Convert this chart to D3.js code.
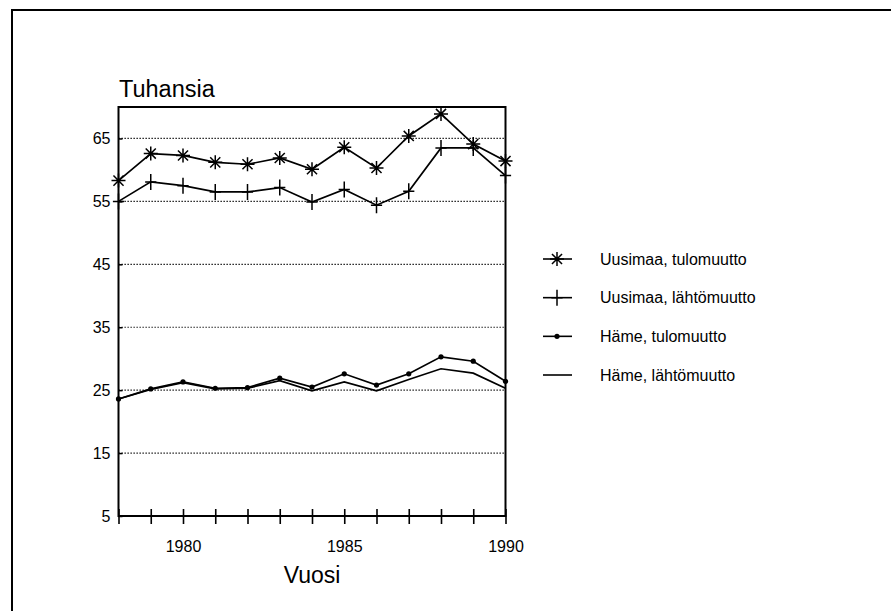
<!DOCTYPE html>
<html>
<head>
<meta charset="utf-8">
<script src="https://cdn.jsdelivr.net/npm/d3@7"></script>
<style>
  body { margin: 0; background: #fff; }
  text { font-family: "Liberation Sans", Arial, sans-serif; fill: #000; }
</style>
</head>
<body>
<script>
// data (thousands)
var years = [1978, 1979, 1980, 1981, 1982, 1983, 1984, 1985, 1986, 1987, 1988, 1989, 1990];
var uusimaaTulo  = [58.3, 62.6, 62.3, 61.2, 60.9, 61.9, 60.1, 63.6, 60.3, 65.4, 68.9, 64.1, 61.4];
var uusimaaLahto = [55.0, 58.1, 57.5, 56.5, 56.5, 57.2, 54.9, 56.9, 54.4, 56.6, 63.5, 63.5, 59.1];
var hameTulo     = [23.6, 25.2, 26.3, 25.3, 25.4, 26.9, 25.5, 27.6, 25.8, 27.6, 30.3, 29.6, 26.4];
var hameLahto    = [23.6, 25.1, 26.2, 25.2, 25.3, 26.5, 24.9, 26.3, 24.9, 26.7, 28.4, 27.7, 25.3];
var yTicks = [5, 15, 25, 35, 45, 55, 65];
var xLabels = [1980, 1985, 1990];
var seriesNames = ["Uusimaa, tulomuutto", "Uusimaa, lähtömuutto", "Häme, tulomuutto", "Häme, lähtömuutto"];

// marker shapes
var starSym = {
  draw: function(ctx, size) {
    var r = Math.sqrt(size) / 2, d = r * 0.72;
    ctx.moveTo(0, -r); ctx.lineTo(0, r);
    ctx.moveTo(-r, 0); ctx.lineTo(r, 0);
    ctx.moveTo(-d, -d); ctx.lineTo(d, d);
    ctx.moveTo(-d, d); ctx.lineTo(d, -d);
  }
};
var plusSym = {
  draw: function(ctx, size) {
    var r = Math.sqrt(size) / 2;
    ctx.moveTo(0, -r); ctx.lineTo(0, r);
    ctx.moveTo(-r * 0.7, 0); ctx.lineTo(r * 0.7, 0);
  }
};

var series = [
  {name: seriesNames[0], values: uusimaaTulo,  marker: "star"},
  {name: seriesNames[1], values: uusimaaLahto, marker: "plus"},
  {name: seriesNames[2], values: hameTulo,     marker: "dot"},
  {name: seriesNames[3], values: hameLahto,    marker: "none"}
];

var svg = d3.select("body").append("svg")
    .attr("width", 891)
    .attr("height", 611);

// outer frame (top + left edge)
svg.append("path")
    .attr("d", "M12,611V10H891")
    .attr("fill", "none")
    .attr("stroke", "#000")
    .attr("stroke-width", 2);

var plotL = 118.5, plotR = 505.5, plotT = 107, plotB = 516;

var x = d3.scaleLinear().domain([1978, 1990]).range([plotL, plotR]);
var y = d3.scaleLinear().domain([5, 70]).range([plotB, plotT]);

// grid lines
var grid = svg.append("g");
grid.selectAll("line").data(yTicks.filter(function(d) { return d > 5; })).enter().append("line")
    .attr("x1", plotL).attr("x2", plotR)
    .attr("y1", function(d) { return y(d); })
    .attr("y2", function(d) { return y(d); })
    .attr("stroke", "#000")
    .attr("stroke-width", 1.2)
    .attr("stroke-dasharray", "1.3,1.7");

// y axis
var yAxis = svg.append("g")
    .attr("transform", "translate(" + plotL + ",0)")
    .call(d3.axisLeft(y).tickValues(yTicks).tickSize(-4).tickPadding(8).tickSizeOuter(0));
yAxis.select(".domain").remove();
yAxis.selectAll(".tick line").attr("stroke-width", 1.5);
yAxis.selectAll("text")
    .style("font-size", "16px")
    .style("font-family", "'Liberation Sans', Arial, sans-serif");

// plot box
svg.append("rect")
    .attr("x", plotL).attr("y", plotT)
    .attr("width", plotR - plotL).attr("height", plotB - plotT)
    .attr("fill", "none")
    .attr("stroke", "#000")
    .attr("stroke-width", 2);

// x axis, ticks cross the line
var xAxis = svg.append("g")
    .attr("transform", "translate(0," + plotB + ")")
    .call(d3.axisBottom(x).tickValues(years).tickSize(8).tickPadding(17)
        .tickFormat(function(d) { return xLabels.indexOf(d) >= 0 ? d : ""; }));
xAxis.select(".domain").remove();
xAxis.selectAll(".tick line").attr("y1", -7).attr("stroke-width", 1.6);
xAxis.selectAll("text")
    .style("font-size", "16px")
    .style("font-family", "'Liberation Sans', Arial, sans-serif");

// lines
var line = d3.line()
    .x(function(d, i) { return x(years[i]); })
    .y(function(d) { return y(d); });

series.forEach(function(s) {
  svg.append("path")
      .attr("d", line(s.values))
      .attr("fill", "none")
      .attr("stroke", "#000")
      .attr("stroke-width", 1.7);
});

function drawMarker(g, type, cx, cy) {
  if (type == "star") {
    g.append("path").attr("d", d3.symbol(starSym, 196)())
        .attr("transform", "translate(" + cx + "," + cy + ")")
        .attr("fill", "none").attr("stroke", "#000").attr("stroke-width", 1.5);
  } else if (type == "plus") {
    g.append("path").attr("d", d3.symbol(plusSym, 256)())
        .attr("transform", "translate(" + cx + "," + cy + ")")
        .attr("fill", "none").attr("stroke", "#000").attr("stroke-width", 1.5);
  } else if (type == "dot") {
    g.append("circle").attr("cx", cx).attr("cy", cy).attr("r", 2.6).attr("fill", "#000");
  }
}

var marks = svg.append("g");
series.forEach(function(s) {
  s.values.forEach(function(v, i) {
    drawMarker(marks, s.marker, x(years[i]), y(v));
  });
});

// titles
svg.append("text")
    .attr("x", 119).attr("y", 97)
    .style("font-size", "23.5px")
    .text("Tuhansia");

svg.append("text")
    .attr("x", 312).attr("y", 583)
    .attr("text-anchor", "middle")
    .style("font-size", "23px")
    .text("Vuosi");

// legend
var legendY = d3.scalePoint().domain(seriesNames).range([259, 375]);
var legend = svg.append("g");
series.forEach(function(s) {
  var ly = legendY(s.name);
  legend.append("line")
      .attr("x1", 543).attr("x2", 572)
      .attr("y1", ly).attr("y2", ly)
      .attr("stroke", "#000").attr("stroke-width", 1.6);
  drawMarker(legend, s.marker, 557, ly);
  legend.append("text")
      .attr("x", 600).attr("y", ly)
      .attr("dy", "0.35em")
      .style("font-size", "16px")
      .text(s.name);
});
</script>
</body>
</html>
